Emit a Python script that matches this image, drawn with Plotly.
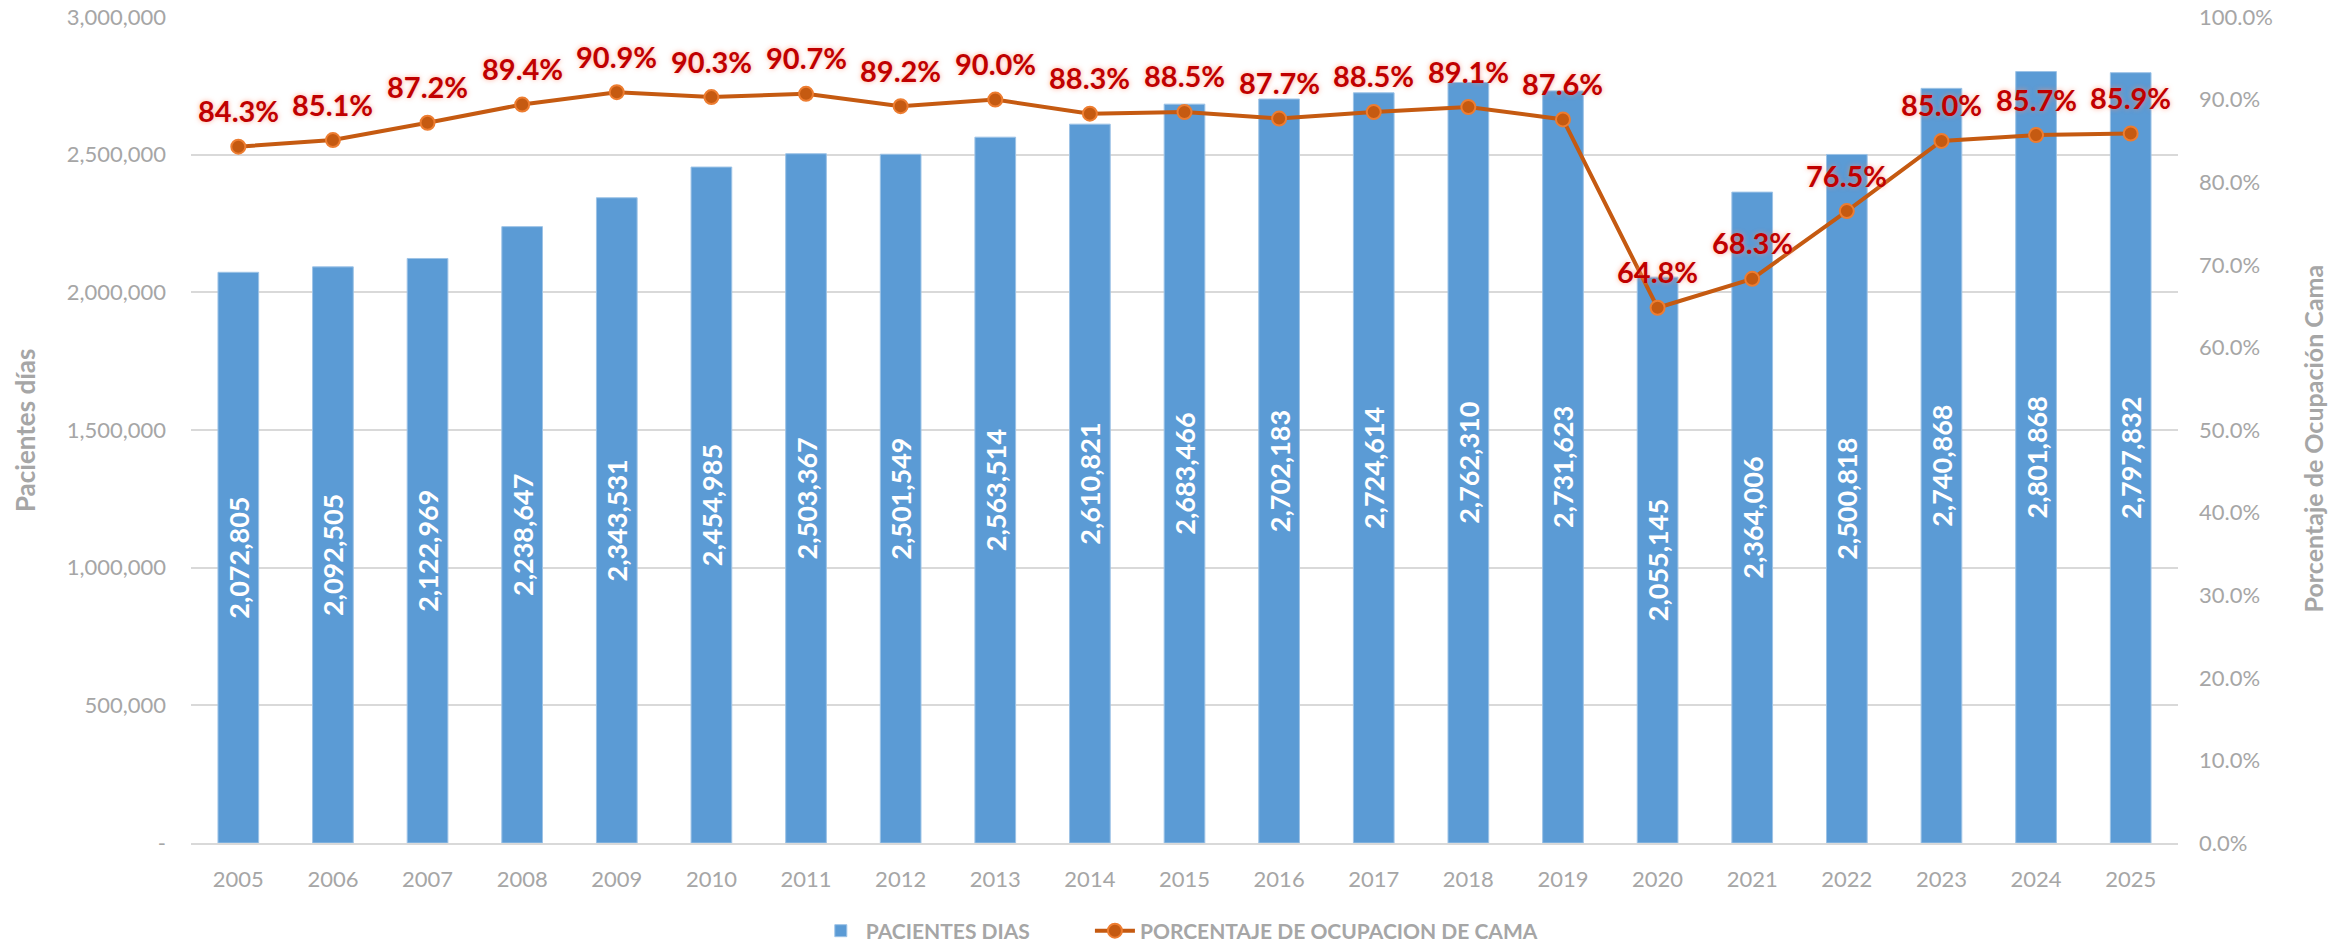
import plotly.graph_objects as go

years = [str(y) for y in range(2005, 2026)]
pacientes_dias = [2072805, 2092505, 2122969, 2238647, 2343531, 2454985, 2503367,
                  2501549, 2563514, 2610821, 2683466, 2702183, 2724614, 2762310,
                  2731623, 2055145, 2364006, 2500818, 2740868, 2801868, 2797832]
ocupacion_pct = [84.3, 85.1, 87.2, 89.4, 90.9, 90.3, 90.7, 89.2, 90.0, 88.3, 88.5,
                 87.7, 88.5, 89.1, 87.6, 64.8, 68.3, 76.5, 85.0, 85.7, 85.9]
left_tickvals = [0, 500000, 1000000, 1500000, 2000000, 2500000, 3000000]
left_ticktext = ["-", "500,000", "1,000,000", "1,500,000", "2,000,000", "2,500,000", "3,000,000"]

FONT = "Lato"
GRAY = "#A6A6A6"

fig = go.Figure()
fig.add_trace(go.Bar(
    x=years, y=pacientes_dias, name="PACIENTES DIAS", legend="legend",
    marker=dict(color="#5B9BD5", line=dict(color="#9DC3E6", width=1)),
    texttemplate="%{y:,}", textposition="inside", insidetextanchor="middle",
    textangle=-90, textfont=dict(family=FONT, size=27, color="white", weight="bold"),
    yaxis="y",
))
fig.add_trace(go.Scatter(
    x=years, y=[v / 100 for v in ocupacion_pct], name="PORCENTAJE DE OCUPACION DE CAMA",
    legend="legend2",
    mode="lines+markers",
    line=dict(color="#C55A11", width=4),
    marker=dict(size=14, color="#C55A11", line=dict(color="#ED7D31", width=2)),
    yaxis="y2", cliponaxis=False,
))

annotations = [
    dict(x=i, y=v / 100, xref="x", yref="y2", text=f"<b>{v:.1f}%</b>", showarrow=False,
         yshift=36, font=dict(family=FONT, size=29, color="#C00000",
                              shadow="0px 0px 5px rgba(255,140,110,0.75)"))
    for i, v in enumerate(ocupacion_pct)
]
annotations += [
    dict(text="<b>Pacientes días</b>", textangle=-90, xref="paper", yref="paper",
         x=-0.0835, y=0.5, xanchor="center", yanchor="middle", showarrow=False,
         font=dict(family=FONT, size=26, color=GRAY)),
    dict(text="<b>Porcentaje de Ocupación Cama</b>", textangle=-90, xref="paper", yref="paper",
         x=1.068, y=0.49, xanchor="center", yanchor="middle", showarrow=False,
         font=dict(family=FONT, size=25, color=GRAY)),
]

legend_font = dict(family=FONT, size=21, color=GRAY, weight="bold")

fig.update_layout(
    width=2351, height=943,
    margin=dict(l=191, r=173, t=17, b=100),
    plot_bgcolor="white", paper_bgcolor="white",
    font=dict(family=FONT, color=GRAY, size=22),
    bargap=0.57,
    uniformtext=dict(minsize=27, mode="show"),
    showlegend=True,
    legend=dict(orientation="h", xref="container", yref="container",
                x=0.347, xanchor="left", y=0.0127, yanchor="middle",
                font=legend_font, itemwidth=40),
    legend2=dict(orientation="h", xref="container", yref="container",
                 x=0.4636, xanchor="left", y=0.0127, yanchor="middle",
                 font=legend_font, itemwidth=40),
    xaxis=dict(type="category", range=[-0.5, len(years) - 0.5],
               showline=True, linecolor="#D9D9D9", linewidth=2, ticks="",
               automargin=False, tickfont=dict(size=22, color=GRAY), ticklabelstandoff=16),
    yaxis=dict(range=[0, 3000000], tickvals=left_tickvals, ticktext=left_ticktext,
               showgrid=True, gridcolor="#D9D9D9", gridwidth=1.5, zeroline=False,
               automargin=False,
               tickfont=dict(size=22, color=GRAY), ticklabelstandoff=24),
    yaxis2=dict(range=[0, 1], dtick=0.1, tickformat=".1%", overlaying="y", side="right",
                showgrid=False, zeroline=False, automargin=False,
                tickfont=dict(size=22, color=GRAY), ticklabelstandoff=20),
    annotations=annotations,
)

fig.write_html("out.html", config={"displayModeBar": False},
               post_script="document.body.style.margin='0';document.body.style.overflow='hidden';")
